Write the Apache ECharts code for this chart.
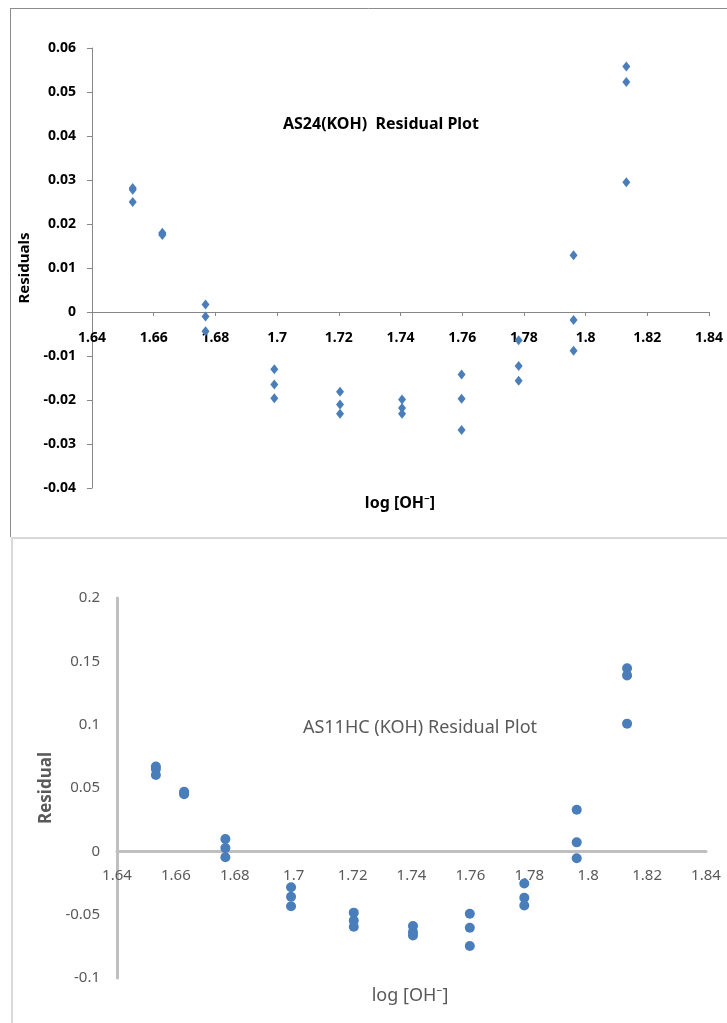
<!DOCTYPE html>
<html>
<head>
<meta charset="utf-8">
<script src="https://cdn.jsdelivr.net/npm/echarts@6/dist/echarts.min.js"></script>
<style>
html,body{margin:0;padding:0;background:#fff;}
#c{width:727px;height:1023px;}
</style>
</head>
<body>
<div id="c"></div>
<script>
// log [OH-] values (shared by both plots)
const logOH = [1.6532, 1.6628, 1.6768, 1.6991, 1.7204, 1.7405, 1.7598, 1.7783, 1.7961, 1.8132];

// AS24(KOH) residuals, three replicates per concentration
const as24ResA = [0.0282, 0.0180, 0.0017, -0.0130, -0.0181, -0.0199, -0.0142, -0.0064, 0.0129, 0.0558];
const as24ResB = [0.0278, 0.0177, -0.0010, -0.0165, -0.0210, -0.0218, -0.0197, -0.0123, -0.0018, 0.0523];
const as24ResC = [0.0250, 0.0175, -0.0044, -0.0196, -0.0231, -0.0231, -0.0268, -0.0156, -0.0088, 0.0295];

// AS11HC(KOH) residuals, three replicates per concentration
const as11ResA = [0.0670, 0.0470, 0.0098, -0.0283, -0.0484, -0.0590, -0.0493, -0.0254, 0.0328, 0.1446];
const as11ResB = [0.0650, 0.0460, 0.0027, -0.0359, -0.0546, -0.0638, -0.0603, -0.0367, 0.0071, 0.1389];
const as11ResC = [0.0603, 0.0450, -0.0047, -0.0433, -0.0596, -0.0665, -0.0748, -0.0428, -0.0055, 0.1008];

// axis ranges [min, max, interval]
const xRange = [1.64, 1.84, 0.02];
const as24YRange = [-0.04, 0.06, 0.01];
const as11YRange = [-0.1, 0.2, 0.05];

function pairs(xs, ...ys) {
  const out = [];
  ys.forEach(arr => arr.forEach((v, i) => out.push([xs[i], v])));
  return out;
}

const FONT = '"Noto Sans", "DejaVu Sans", sans-serif';
const BLUE = '#4a7ebb';

const chart = echarts.init(document.getElementById('c'), null, {renderer: 'canvas'});
const option = {
  animation: false,
  backgroundColor: '#ffffff',
  grid: [
    {left: 92, right: 18, top: 48, bottom: 535, containLabel: false},
    {left: 117, right: 21, top: 598, bottom: 45, containLabel: false}
  ],
  xAxis: [
    {
      gridIndex: 0, type: 'value', min: xRange[0], max: xRange[1], interval: xRange[2],
      position: 'bottom', offset: 0,
      axisLine: {show: true, onZero: false, lineStyle: {color: '#868686', width: 1}},
      axisTick: {show: true, inside: false, length: 4, lineStyle: {color: '#868686'}},
      axisLabel: {show: true, margin: 19, fontSize: 14, fontWeight: 'bold', color: '#000', fontFamily: FONT,
                  showMinLabel: true, showMaxLabel: true, hideOverlap: false},
      splitLine: {show: false}
    },
    {
      gridIndex: 1, type: 'value', min: xRange[0], max: xRange[1], interval: xRange[2],
      position: 'bottom', offset: 0,
      axisLine: {show: true, onZero: false, lineStyle: {color: '#bfbfbf', width: 3}},
      axisTick: {show: false},
      axisLabel: {show: true, margin: 17, fontSize: 15, color: '#595959', fontFamily: FONT,
                  showMinLabel: true, showMaxLabel: true, hideOverlap: false},
      splitLine: {show: false}
    }
  ],
  yAxis: [
    {
      gridIndex: 0, type: 'value', min: as24YRange[0], max: as24YRange[1], interval: as24YRange[2],
      name: 'Residuals', nameLocation: 'middle', nameRotate: 90, nameGap: 57,
      nameTextStyle: {fontSize: 15, fontWeight: 'bold', color: '#000', fontFamily: FONT},
      axisLine: {show: true, onZero: false, lineStyle: {color: '#868686', width: 1}},
      axisTick: {show: true, inside: false, length: 5, lineStyle: {color: '#868686'}},
      axisLabel: {show: true, margin: 16, fontSize: 14, fontWeight: 'bold', color: '#000', fontFamily: FONT,
                  showMinLabel: true, showMaxLabel: true},
      splitLine: {show: false}
    },
    {
      gridIndex: 1, type: 'value', min: as11YRange[0], max: as11YRange[1], interval: as11YRange[2],
      name: 'Residual', nameLocation: 'middle', nameRotate: 90, nameGap: 62,
      nameTextStyle: {fontSize: 17, fontWeight: 'bold', color: '#595959', fontFamily: FONT},
      axisLine: {show: true, onZero: false, lineStyle: {color: '#bfbfbf', width: 3}},
      axisTick: {show: false},
      axisLabel: {show: true, margin: 17, fontSize: 15, color: '#595959', fontFamily: FONT,
                  showMinLabel: true, showMaxLabel: true},
      splitLine: {show: false}
    }
  ],
  series: [
    {
      type: 'scatter', xAxisIndex: 0, yAxisIndex: 0,
      symbol: 'diamond', symbolSize: [8, 10],
      itemStyle: {color: BLUE, opacity: 1},
      data: pairs(logOH, as24ResA, as24ResB, as24ResC)
    },
    {
      type: 'scatter', xAxisIndex: 1, yAxisIndex: 1,
      symbol: 'circle', symbolSize: 10,
      itemStyle: {color: BLUE, opacity: 1},
      data: pairs(logOH, as11ResA, as11ResB, as11ResC)
    }
  ],
  graphic: [
    {type: 'line', shape: {x1: 10.5, y1: 8, x2: 10.5, y2: 537}, style: {stroke: '#8c8c8c', lineWidth: 1}},
    {type: 'line', shape: {x1: 10, y1: 8.5, x2: 727, y2: 8.5}, style: {stroke: '#8c8c8c', lineWidth: 1}},
    {type: 'line', shape: {x1: 11, y1: 538, x2: 727, y2: 538}, style: {stroke: '#d9d9d9', lineWidth: 2}},
    {type: 'line', shape: {x1: 12, y1: 537, x2: 12, y2: 1023}, style: {stroke: '#d9d9d9', lineWidth: 2}},
    {type: 'text', x: 381, y: 124, style: {text: 'AS24(KOH)  Residual Plot', font: 'bold 16px ' + FONT, fill: '#000', align: 'center', verticalAlign: 'middle'}},
    {type: 'text', x: 400, y: 503, style: {text: 'log [OH\u207B]', font: 'bold 16px ' + FONT, fill: '#000', align: 'center', verticalAlign: 'middle'}},
    {type: 'text', x: 420, y: 728, style: {text: 'AS11HC (KOH) Residual Plot', font: '18px ' + FONT, fill: '#595959', align: 'center', verticalAlign: 'middle'}},
    {type: 'text', x: 410, y: 996, style: {text: 'log [OH\u207B]', font: '18px ' + FONT, fill: '#595959', align: 'center', verticalAlign: 'middle'}}
  ]
};
chart.setOption(option);

// Move each x axis up so that it crosses its y axis at zero (via the library's own scales)
const y0Top = chart.convertToPixel({yAxisIndex: 0}, 0);
const yMinTop = chart.convertToPixel({yAxisIndex: 0}, as24YRange[0]);
const y0Bot = chart.convertToPixel({yAxisIndex: 1}, 0);
const yMinBot = chart.convertToPixel({yAxisIndex: 1}, as11YRange[0]);
chart.setOption({
  xAxis: [
    {offset: -(yMinTop - y0Top)},
    {offset: -(yMinBot - y0Bot)}
  ]
});
</script>
</body>
</html>
